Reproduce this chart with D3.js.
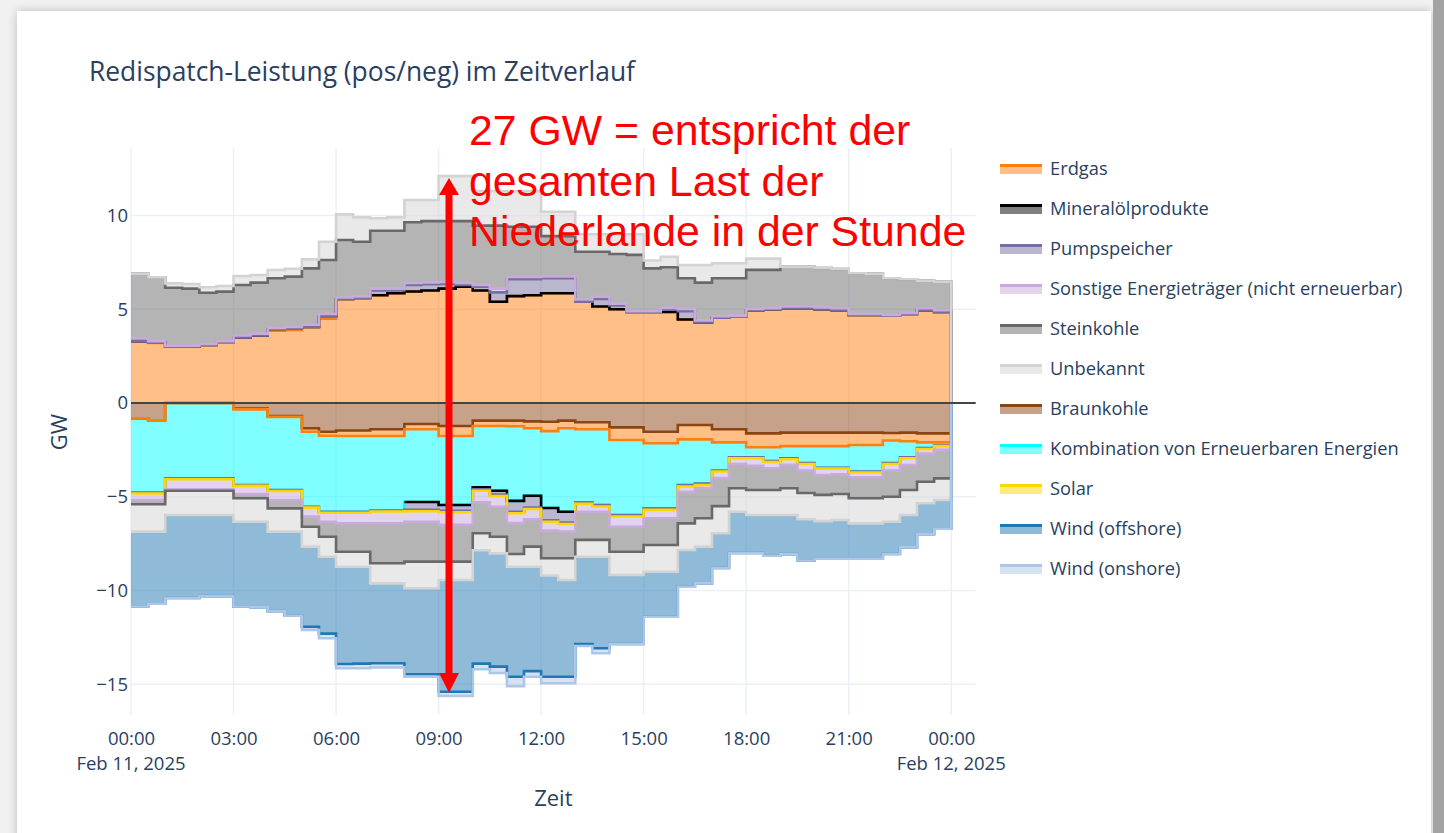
<!DOCTYPE html>
<html><head><meta charset="utf-8">
<script src="https://cdn.jsdelivr.net/npm/d3@7"></script>
<style>
html,body{margin:0;padding:0;background:#fff;overflow:hidden;}
svg{display:block;font-family:"Open Sans",sans-serif;}
</style></head>
<body><svg id="chart" width="1444" height="833"></svg>
<script>
// ---------------- DATA (GW, 30-minute steps starting 11 Feb 2025 00:00) ----------------
const startTime = new Date(2025, 1, 11, 0, 0);
const stepMinutes = 30;
const xTickHours = [0, 3, 6, 9, 12, 15, 18, 21, 24];
const yTickValues = [-15, -10, -5, 0, 5, 10];

// positive redispatch
const posErdgas   = [3.3,3.2,3.0,3.0,3.1,3.25,3.5,3.6,3.85,3.9,4.05,4.5,5.55,5.6,5.75,5.85,5.95,6.0,6.1,6.2,6.0,5.4,5.7,5.75,5.85,5.85,5.4,5.15,5.0,4.85,4.85,4.85,4.45,4.3,4.55,4.6,4.95,5.0,5.05,5.05,5.0,4.95,4.7,4.7,4.65,4.75,4.95,4.85];
const posMineral  = [0,0.05,0,0,0,0,0,0,0.1,0.1,0,0.1,0,0,0,0,0,0,0,0,0,0,0,0,0,0,0,0,0,0,0,0,0,0,0,0,0,0,0,0,0,0,0,0,0,0,0,0];
const posPump     = [0,0,0,0,0,0,0,0,0,0,0,0,0,0,0.25,0.15,0.35,0.33,0.25,0.1,0.2,0.5,0.9,0.85,0.8,0.8,0,0.4,0.2,0,0,0.12,0.45,0,0,0,0,0,0,0,0,0,0,0,0,0,0,0];
const posSonstige = [0.15,0.05,0.05,0.05,0.05,0.05,0.1,0.1,0.05,0.05,0.12,0.15,0.08,0.08,0.1,0.1,0.1,0.1,0.1,0.1,0.1,0.2,0.12,0.12,0.1,0.1,0.12,0.12,0.1,0.05,0.05,0.1,0.12,0.1,0.08,0.06,0.06,0.06,0.1,0.1,0.1,0.1,0.05,0.05,0.05,0.05,0.1,0.1];
const posStein    = [3.45,3.4,3.1,3.05,2.73,2.64,2.69,2.72,2.65,2.69,3.01,2.88,3.06,2.92,3.09,3.09,3.24,3.27,3.25,3.3,3.16,3.36,2.68,2.68,2.15,2.15,2.55,2.4,2.65,3.0,2.28,2.17,1.63,2.02,2.02,1.99,2.09,2.04,2.12,2.12,2.1,2.1,2.17,2.15,1.95,1.8,1.47,1.52];
const posUnbek    = [0,0,0.23,0.25,0.29,0.3,0.48,0.41,0.44,0.42,0.48,0.97,1.37,1.3,0.66,0.71,1.19,1.13,2.4,2.4,1.84,1.84,1.9,1.9,1.3,1.3,0.93,0.93,1.05,1.1,0.42,0.56,0.71,0.94,0.8,0.8,0.6,0.6,0,0,0,0,0,0,0,0,0,0];

// negative redispatch
const negBraun    = [-0.82,-0.92,0,0,0,0,-0.3,-0.3,-0.7,-0.7,-1.35,-1.53,-1.47,-1.47,-1.4,-1.4,-1.12,-1.12,-1.23,-1.23,-0.94,-0.94,-0.94,-0.98,-1.0,-0.94,-1.03,-1.03,-1.3,-1.3,-1.53,-1.53,-1.17,-1.17,-1.4,-1.4,-1.62,-1.62,-1.58,-1.58,-1.58,-1.58,-1.58,-1.58,-1.6,-1.58,-1.62,-1.62];
const negErdgas   = [0,0,0,0,0,0,-0.04,-0.04,-0.04,-0.04,-0.18,-0.22,-0.29,-0.29,-0.36,-0.36,-0.28,-0.28,-0.53,-0.53,-0.29,-0.29,-0.3,-0.37,-0.5,-0.41,-0.37,-0.37,-0.67,-0.67,-0.62,-0.62,-0.77,-0.77,-0.7,-0.7,-0.74,-0.74,-0.72,-0.72,-0.72,-0.72,-0.66,-0.66,-0.4,-0.46,-0.48,-0.48];
const negKomb     = [-3.96,-3.86,-4.02,-4.02,-4.02,-4.02,-4.03,-4.03,-3.9,-3.9,-4.0,-4.05,-4.04,-4.04,-3.98,-3.98,-3.88,-3.88,-3.68,-3.68,-3.27,-3.45,-3.98,-3.6,-4.1,-4.45,-3.9,-4.04,-4.0,-4.0,-3.47,-3.47,-2.43,-2.36,-1.5,-0.8,-0.54,-0.74,-0.65,-0.9,-1.15,-1.15,-1.42,-1.42,-1.2,-0.86,-0.3,-0.15];
const negMineral  = [null,null,null,null,null,null,null,null,null,null,null,null,null,null,null,null,0,0,0,0,0,0,0,0,0,0,null,null,null,null,null,null,null,null,null,null,null,null,null,null,null,null,null,null,null,null,null,null];
const negPump     = [0,0,0,0,0,0,0,0,0,0,0,0,0,0,0,0,-0.41,-0.41,-0.31,-0.31,-0.1,-0.2,-0.58,-0.62,-0.65,-0.57,0,0,0,0,0,0,0,0,0,0,0,0,0,0,0,0,0,0,0,0,0,0];
const negSolar    = [-0.05,-0.05,-0.05,-0.05,-0.05,-0.05,-0.05,-0.05,-0.05,-0.05,-0.05,-0.05,-0.05,-0.05,-0.05,-0.05,-0.08,-0.08,-0.08,-0.08,-0.08,-0.08,-0.08,-0.08,-0.08,-0.08,-0.08,-0.08,-0.08,-0.08,-0.08,-0.08,-0.08,-0.08,-0.05,-0.05,-0.05,-0.05,-0.05,-0.05,-0.05,-0.05,-0.05,-0.05,-0.05,-0.05,-0.05,-0.05];
const negSonstige = [-0.34,-0.34,-0.53,-0.53,-0.53,-0.53,-0.43,-0.43,-0.48,-0.48,-0.48,-0.48,-0.57,-0.57,-0.63,-0.63,-0.56,-0.56,-0.67,-0.67,-0.62,-0.57,-0.52,-0.55,-0.47,-0.41,-0.42,-0.28,-0.55,-0.55,-0.45,-0.45,-0.28,-0.17,-0.35,-0.3,-0.4,-0.33,-0.3,-0.35,-0.34,-0.3,-0.25,-0.25,-0.35,-0.36,-0.25,-0.2];
const negStein    = [-0.23,-0.23,-0.08,-0.08,-0.08,-0.08,-0.23,-0.23,-0.45,-0.45,-0.54,-0.8,-1.51,-1.51,-2.13,-2.13,-2.13,-2.13,-1.96,-1.96,-1.65,-1.6,-1.65,-1.46,-1.48,-1.42,-1.5,-1.5,-1.33,-1.33,-1.42,-1.42,-1.69,-1.6,-1.5,-1.3,-1.29,-1.16,-1.25,-1.2,-1.06,-1.05,-1.12,-1.12,-1.4,-1.33,-1.5,-1.52];
const negUnbek    = [-1.46,-1.46,-1.29,-1.29,-1.29,-1.29,-1.25,-1.25,-1.24,-1.24,-1.06,-1.07,-0.8,-0.8,-1.07,-1.07,-1.42,-1.42,-0.98,-0.98,-0.9,-0.89,-0.68,-1.07,-0.92,-1.16,-0.9,-0.9,-1.24,-1.24,-1.43,-1.43,-1.42,-1.51,-1.45,-1.25,-1.33,-1.33,-1.42,-1.4,-1.4,-1.39,-1.34,-1.34,-1.33,-1.33,-1.15,-1.15];
const negWindOff  = [-3.99,-3.84,-4.43,-4.43,-4.33,-4.33,-4.52,-4.57,-4.24,-4.49,-4.27,-4.1,-5.19,-5.17,-4.26,-4.26,-4.59,-4.59,-5.96,-5.96,-6.05,-6.04,-5.87,-5.57,-5.4,-5.16,-4.65,-4.88,-3.68,-3.68,-2.4,-2.4,-1.96,-1.96,-1.85,-2.2,-2.03,-2.18,-2.09,-2.2,-2.0,-2.06,-1.88,-1.88,-1.72,-1.73,-1.65,-1.53];
const negWindOn   = [0,0,0,0,0,0,0,0,0,0,-0.17,-0.25,-0.23,-0.25,-0.22,-0.22,-0.13,-0.13,-0.23,-0.23,-0.3,-0.34,-0.5,-0.3,-0.35,-0.35,-0.11,-0.27,0,0,0,0,0,0,0,0,0,0,0,0,0,0,0,0,0,0,0,0];

const posSeries = [
  ["Erdgas", posErdgas], ["Mineralölprodukte", posMineral], ["Pumpspeicher", posPump],
  ["Sonstige Energieträger (nicht erneuerbar)", posSonstige], ["Steinkohle", posStein], ["Unbekannt", posUnbek]
];
const negSeries = [
  ["Braunkohle", negBraun], ["Erdgas", negErdgas], ["Kombination von Erneuerbaren Energien", negKomb],
  ["Mineralölprodukte", negMineral], ["Pumpspeicher", negPump], ["Solar", negSolar],
  ["Sonstige Energieträger (nicht erneuerbar)", negSonstige], ["Steinkohle", negStein], ["Unbekannt", negUnbek],
  ["Wind (offshore)", negWindOff], ["Wind (onshore)", negWindOn]
];
const legendNames = ["Erdgas","Mineralölprodukte","Pumpspeicher","Sonstige Energieträger (nicht erneuerbar)","Steinkohle","Unbekannt","Braunkohle","Kombination von Erneuerbaren Energien","Solar","Wind (offshore)","Wind (onshore)"];
const annotationLines = ["27 GW = entspricht der","gesamten Last der","Niederlande in der Stunde"];

// ---------------- STYLE ----------------
const colors = {
  "Erdgas": "#ff7f0e", "Mineralölprodukte": "#000000", "Pumpspeicher": "#7670a0",
  "Sonstige Energieträger (nicht erneuerbar)": "#c8aadc", "Steinkohle": "#696969", "Unbekannt": "#d3d3d3",
  "Braunkohle": "#8b4513", "Kombination von Erneuerbaren Energien": "#00ffff", "Solar": "#ffd700",
  "Wind (offshore)": "#1f77b4", "Wind (onshore)": "#aec7e8"
};
const fillOf = c => { const k = d3.color(c); k.opacity = 0.5; return k.toString(); };
const textColor = "#2a3f5f";
const W = 1444, H = 833;
const plot = {left: 131, right: 975.7, top: 148, bottom: 715};

const svg = d3.select("#chart");
// page frame
const defs = svg.append("defs");
const sh = defs.append("filter").attr("id","shadow").attr("x",-0.05).attr("y",-0.05).attr("width",1.1).attr("height",1.1);
sh.append("feDropShadow").attr("dx",0).attr("dy",0).attr("stdDeviation",5).attr("flood-color","#000").attr("flood-opacity",0.22);
svg.append("rect").attr("width",W).attr("height",H).attr("fill","#f1f1f1");
svg.append("rect").attr("x",17).attr("y",11).attr("width",1414).attr("height",H).attr("fill","#fff").attr("filter","url(#shadow)");
svg.append("rect").attr("x",1433).attr("y",0).attr("width",11).attr("height",H).attr("fill","#a3a3a3");

defs.append("clipPath").attr("id","clip").append("rect")
  .attr("x",plot.left).attr("y",plot.top).attr("width",plot.right-plot.left).attr("height",plot.bottom-plot.top);

// scales
const x = d3.scaleTime()
  .domain([startTime, d3.timeMinute.offset(startTime, 24.72*60)])
  .range([plot.left, plot.right]);
const y = d3.scaleLinear().domain([-16.64, 13.6]).range([plot.bottom, plot.top]);

// rows (last row closes the series at 00:00 Feb 12 with 0)
const n = posErdgas.length;
const rows = d3.range(n + 1).map(j => {
  const r = {time: d3.timeMinute.offset(startTime, j*stepMinutes), pos: {}, neg: {}};
  posSeries.forEach(([k, arr]) => r.pos[k] = j < n ? arr[j] : 0);
  negSeries.forEach(([k, arr]) => r.neg[k] = j < n ? arr[j] : 0);
  return r;
});

const posStack = d3.stack().keys(posSeries.map(s => s[0])).value((d,k) => d.pos[k] ?? 0).offset(d3.stackOffsetNone)(rows);
const negStack = d3.stack().keys(negSeries.map(s => s[0])).value((d,k) => d.neg[k] ?? 0).offset(d3.stackOffsetNone)(rows);

// gridlines
const tickDates = xTickHours.map(h => d3.timeMinute.offset(startTime, h*60));
const grid = svg.append("g");
grid.selectAll("line.v").data(tickDates).join("line")
  .attr("x1", d => x(d)).attr("x2", d => x(d))
  .attr("y1", plot.top).attr("y2", plot.bottom).attr("stroke","#ebf0f8").attr("stroke-width",1.5);
grid.selectAll("line.h").data(yTickValues).join("line")
  .attr("x1", plot.left).attr("x2", plot.right).attr("y1", d => y(d)).attr("y2", d => y(d))
  .attr("stroke","#ebf0f8").attr("stroke-width",1.5);

const area = d3.area().curve(d3.curveStepAfter)
  .x(d => x(d.data.time)).y0(d => y(d[0])).y1(d => y(d[1]));
const plotG = svg.append("g").attr("clip-path","url(#clip)");

plotG.selectAll("path.pa").data(posStack).join("path")
  .attr("d", area).attr("fill", s => fillOf(colors[s.key]));
plotG.selectAll("path.na").data(negStack).join("path")
  .attr("d", area).attr("fill", s => fillOf(colors[s.key]));

function drawLines(stack, group) {
  stack.forEach(s => {
    const raw = d => d.data[group][s.key];
    const line = d3.line().curve(d3.curveStepAfter)
      .defined((d, j) => raw(d) != null || (j > 0 && raw(s[j-1]) != null))
      .x(d => x(d.data.time)).y(d => y(d[1]));
    plotG.append("path").attr("d", line(s)).attr("fill","none")
      .attr("stroke", colors[s.key]).attr("stroke-width", 2.6).attr("stroke-linejoin","miter");
  });
}
drawLines(posStack, "pos");
drawLines(negStack, "neg");

// zero line
svg.append("line").attr("x1",plot.left).attr("x2",plot.right).attr("y1",y(0)).attr("y2",y(0))
  .attr("stroke","#444").attr("stroke-width",2);

// axes
const xAxis = d3.axisBottom(x).tickValues(tickDates)
  .tickFormat(d3.timeFormat("%H:%M")).tickSize(0).tickPadding(17);
const gx = svg.append("g").attr("transform",`translate(0,${plot.bottom})`).call(xAxis);
gx.select(".domain").remove();
gx.selectAll("text").attr("fill",textColor).style("font-size","18.5px").style("font-family","'Open Sans',sans-serif");
// date line below the midnight ticks
svg.append("g").selectAll("text").data(tickDates.filter(d => d.getHours() === 0))
  .join("text").attr("x", d => x(d)).attr("y", 770).attr("text-anchor","middle")
  .attr("fill",textColor).style("font-size","18.5px").text(d => d3.timeFormat("%b %d, %Y")(d));

const yAxis = d3.axisLeft(y).tickValues(yTickValues).tickSize(0).tickPadding(3);
const gy = svg.append("g").attr("transform",`translate(${plot.left},0)`).call(yAxis);
gy.select(".domain").remove();
gy.selectAll("text").attr("fill",textColor).style("font-size","18.5px").style("font-family","'Open Sans',sans-serif");

// titles
svg.append("text").attr("x",89).attr("y",81).attr("fill",textColor).style("font-size","26.4px")
  .text("Redispatch-Leistung (pos/neg) im Zeitverlauf");
svg.append("text").attr("x",(plot.left+plot.right)/2).attr("y",806).attr("text-anchor","middle")
  .attr("fill",textColor).style("font-size","22px").text("Zeit");
svg.append("text").attr("transform","translate(67,432) rotate(-90)").attr("text-anchor","middle")
  .attr("fill",textColor).style("font-size","22px").text("GW");

// legend
const lg = svg.append("g");
legendNames.forEach((name, k) => {
  const b = 175 + 40*k;
  lg.append("rect").attr("x",1000).attr("y",b-9.5).attr("width",42).attr("height",8.5).attr("fill",fillOf(colors[name]));
  lg.append("line").attr("x1",1000).attr("x2",1042).attr("y1",b-9.5).attr("y2",b-9.5)
    .attr("stroke",colors[name]).attr("stroke-width",3);
  lg.append("text").attr("x",1050).attr("y",b).attr("fill",textColor).style("font-size","18.3px").text(name);
});

// red annotation
const ann = svg.append("g").style("font-family","'Liberation Sans',Arial,sans-serif").style("font-size","42.8px").attr("fill","#ff0000");
annotationLines.forEach((t,i) => {
  ann.append("text").attr("x",469).attr("y",[145,196,246][i]).text(t);
});
const ax = 449;
svg.append("line").attr("x1",ax).attr("x2",ax).attr("y1",y(11.4)).attr("y2",y(-14.75)).attr("stroke","#ff0000").attr("stroke-width",7);
svg.append("path").attr("d",`M${ax},${y(12.0)} L${ax-10},${y(11.1)} L${ax+10},${y(11.1)} Z`).attr("fill","#ff0000");
svg.append("path").attr("d",`M${ax},${y(-15.45)} L${ax-10},${y(-14.4)} L${ax+10},${y(-14.4)} Z`).attr("fill","#ff0000");
</script>
</body></html>
